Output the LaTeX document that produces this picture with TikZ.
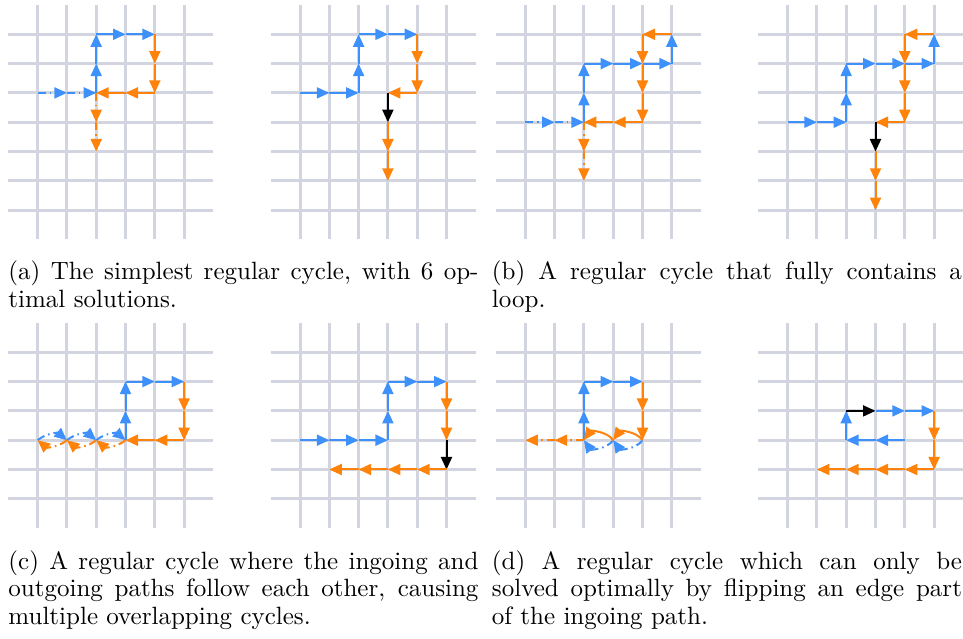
\documentclass[tikz,border=0pt]{standalone}
\usetikzlibrary{arrows.meta}
\definecolor{gridc}{RGB}{210,212,223}
\definecolor{pblue}{RGB}{62,145,250}
\definecolor{porange}{RGB}{255,130,10}
\tikzset{
  gridline/.style={draw=gridc, line width=1.2pt},
  pedge/.style={line width=0.8pt, -{Triangle[length=5pt,width=4.4pt]}},
  bl/.style={pedge, pblue},
  og/.style={pedge, porange},
  bk/.style={pedge, black},
  dd/.style={dash pattern=on 3.2pt off 1.6pt on 0.6pt off 1.6pt},
  captext/.style={anchor=north west, inner sep=0pt, text width=188pt, align=justify,
    font=\fontsize{10}{11.1}\selectfont},
  panelunit/.style={x=11.72pt, y=-11.72pt}
}
\newcommand\panelgrid[2]{%
  \foreach \k in {1,...,#1} \draw[gridline] (0,\k) -- (7,\k);
  \foreach \k in {1,...,6} \draw[gridline] (\k,0) -- (\k,#2);
}
\newcommand\chainop[3]{%
  \foreach \x/\y [count=\i, remember=\x as \lx (initially 0), remember=\y as \ly (initially 0)] in {#3}{%
    \ifnum\i>1 \draw[#1] (\lx,\ly) #2 (\x,\y);\fi}}
\newcommand\chain[2]{\chainop{#1}{--}{#2}}
\begin{document}
\begin{tikzpicture}[x=0.4pt, y=-0.4pt]
\useasboundingbox (0,0) rectangle (963,639);
% (a) left
\begin{scope}[shift={(8.3,5)}, panelunit]
  \panelgrid{7}{8}
  \chain{bl,dd}{1/3,2/3,3/3}
  \chain{bl}{3/3,3/2,3/1,4/1,5/1}
  \chain{og}{5/1,5/2,5/3,4/3,3/3}
  \chain{og,dd}{3/3,3/4,3/5}
\end{scope}
% (a) right
\begin{scope}[shift={(270.7,5)}, panelunit]
  \panelgrid{7}{8}
  \chain{bl}{1/3,2/3,3/3,3/2,3/1,4/1,5/1}
  \chain{og}{5/1,5/2,5/3,4/3}
  \chain{bk}{4/3,4/4}
  \chain{og}{4/4,4/5,4/6}
\end{scope}
% (b) left
\begin{scope}[shift={(496,5)}, panelunit]
  \panelgrid{7}{8}
  \chain{bl,dd}{1/4,2/4,3/4}
  \chain{bl}{3/4,3/3,3/2,4/2,5/2,6/2,6/1}
  \chain{og}{6/1,5/1,5/2,5/3,5/4,4/4,3/4}
  \chain{og,dd}{3/4,3/5,3/6}
\end{scope}
% (b) right
\begin{scope}[shift={(758.3,5)}, panelunit]
  \panelgrid{7}{8}
  \chain{bl}{1/4,2/4,3/4,3/3,3/2,4/2,5/2,6/2,6/1}
  \chain{og}{6/1,5/1,5/2,5/3,5/4,4/4}
  \chain{bk}{4/4,4/5}
  \chain{og}{4/5,4/6,4/7}
\end{scope}
% (c) left
\begin{scope}[shift={(8.3,323)}, panelunit]
  \panelgrid{6}{7}
  \chain{bl}{4/4,4/3,4/2,5/2,6/2}
  \chain{og}{6/2,6/3,6/4,5/4,4/4}
  \chainop{bl,dd}{to[bend left=40]}{1/4,2/4,3/4,4/4}
  \chainop{og,dd}{to[bend left=40]}{4/4,3/4,2/4,1/4}
\end{scope}
% (c) right
\begin{scope}[shift={(270.7,323)}, panelunit]
  \panelgrid{6}{7}
  \chain{bl}{1/4,2/4,3/4,4/4,4/3,4/2,5/2,6/2}
  \chain{og}{6/2,6/3,6/4}
  \chain{bk}{6/4,6/5}
  \chain{og}{6/5,5/5,4/5,3/5,2/5}
\end{scope}
% (d) left
\begin{scope}[shift={(496,323)}, panelunit]
  \panelgrid{6}{7}
  \chainop{bl,dd}{to[bend left=55]}{5/4,4/4,3/4}
  \chain{bl}{3/4,3/3,3/2,4/2,5/2}
  \chain{og}{5/2,5/3,5/4}
  \chainop{og}{to[bend right=55]}{5/4,4/4,3/4}
  \chain{og,dd}{3/4,2/4,1/4}
\end{scope}
% (d) right
\begin{scope}[shift={(758.3,323)}, panelunit]
  \panelgrid{6}{7}
  \chain{bl}{5/4,4/4,3/4,3/3}
  \chain{bk}{3/3,4/3}
  \chain{bl}{4/3,5/3,6/3}
  \chain{og}{6/3,6/4,6/5,5/5,4/5,3/5,2/5}
\end{scope}
% captions
\node[captext] (capa) at (8,260.3) {(a) The simplest regular cycle, with 6 op-\linebreak timal solutions.};
\node[captext] (capb) at (491.5,260.3) {(b) A regular cycle that fully contains a\linebreak loop.};
\node[captext] (capc) at (8,550) {(c) A regular cycle where the ingoing and\linebreak outgoing paths follow each other, causing\linebreak multiple overlapping cycles.};
\node[captext] (capd) at (491.5,550) {(d) A regular cycle which can only be\linebreak solved optimally by flipping an edge part\linebreak of the ingoing path.};
\end{tikzpicture}
\end{document}
